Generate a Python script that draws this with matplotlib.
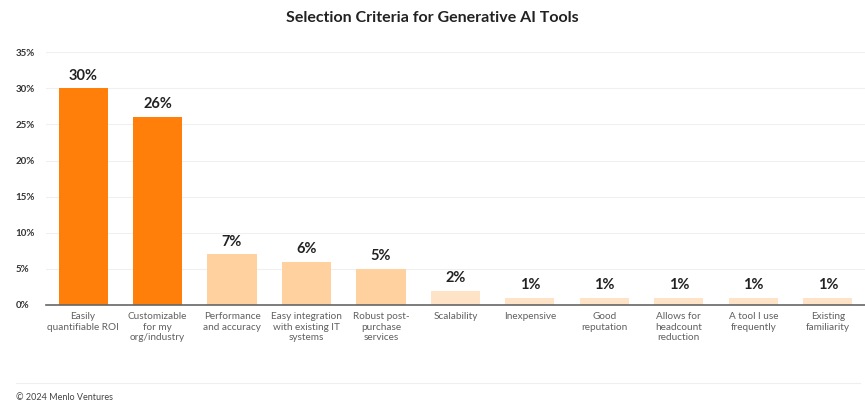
import numpy as np
import matplotlib.pyplot as plt
from matplotlib.lines import Line2D

categories = ['Easily\nquantifiable ROI', 'Customizable\nfor my\norg/industry',
              'Performance\nand accuracy', 'Easy integration\nwith existing IT\nsystems',
              'Robust post-\npurchase\nservices', 'Scalability', 'Inexpensive',
              'Good\nreputation', 'Allows for\nheadcount\nreduction',
              'A tool I use\nfrequently', 'Existing\nfamiliarity']
values = [30, 26, 7, 6, 5, 2, 1, 1, 1, 1, 1]
colors = ['#FF7F0A', '#FF7F0A', '#FFD19F', '#FFD19F', '#FFD19F',
          '#FFE3C6', '#FFE3C6', '#FFE3C6', '#FFE3C6', '#FFE3C6', '#FFE3C6']
yticks = [0, 5, 10, 15, 20, 25, 30, 35]

plt.rcParams['font.family'] = ['Lato', 'DejaVu Sans']

fig = plt.figure(figsize=(8.65, 4.11), dpi=100)
ax = fig.add_axes([0.053, 0.258, 0.947, 0.615])

x = np.arange(len(values))
ax.bar(x, values, width=0.66, color=colors, zorder=2)
for xi, v in zip(x, values):
    ax.text(xi, v + 0.8, f'{v}%', ha='center', va='bottom',
            fontsize=10.5, fontweight='bold', color='#222222')

ax.set_xlim(-0.5, len(values) - 0.5)
ax.set_ylim(0, 35)
ax.set_yticks(yticks)
ax.set_yticklabels([f'{t}%' for t in yticks], fontsize=7, fontweight='bold', color='#333333')
ax.set_xticks(x)
ax.set_xticklabels(categories, fontsize=7.2, color='#606060', linespacing=1.25)
ax.tick_params(axis='both', length=0)
ax.tick_params(axis='y', pad=22)
ax.tick_params(axis='x', pad=5)
for lab in ax.get_yticklabels():
    lab.set_horizontalalignment('left')

ax.grid(axis='y', color='#F0F0F0', linewidth=0.8, zorder=0)
for s in ['top', 'right', 'left']:
    ax.spines[s].set_visible(False)
ax.spines['bottom'].set_color('#666666')
ax.spines['bottom'].set_linewidth(1.2)
ax.spines['bottom'].set_zorder(3)

fig.text(0.5, 0.955, 'Selection Criteria for Generative AI Tools', ha='center', va='center',
         fontsize=11.5, fontweight='bold', color='#222222')
fig.add_artist(Line2D([16 / 865, 860 / 865], [1 - 383 / 411, 1 - 383 / 411],
                      color='#EEEEEE', linewidth=0.8))
fig.text(16 / 865, 1 - 397 / 411, '\u00a9 2024 Menlo Ventures', ha='left', va='center',
         fontsize=6.5, color='#444444')

plt.savefig('out.png', dpi=100)
